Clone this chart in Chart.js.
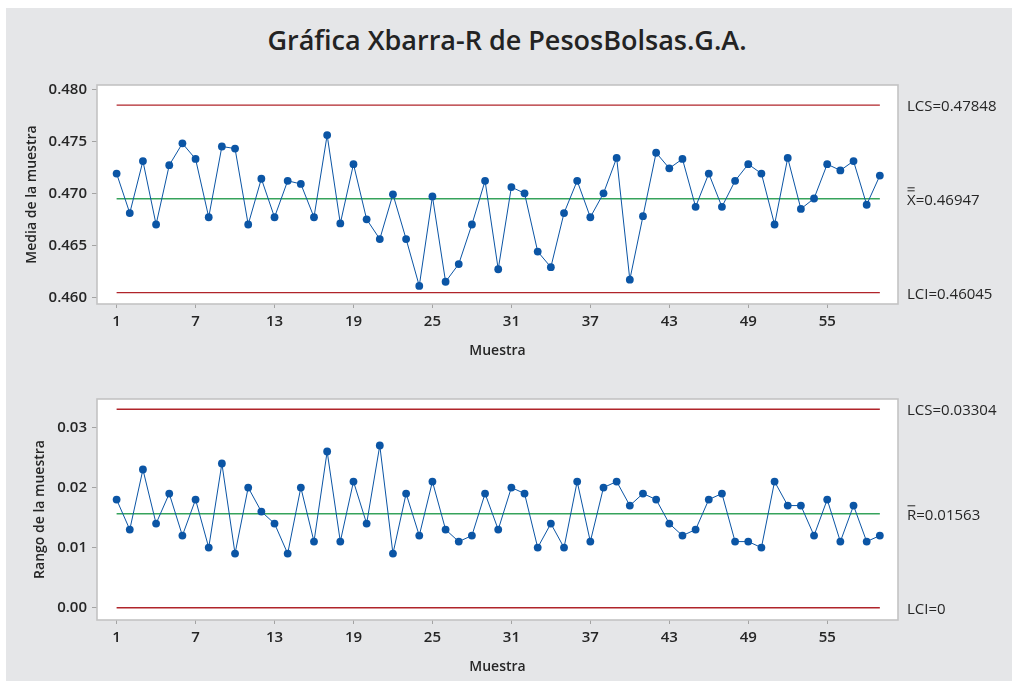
<!DOCTYPE html>
<html>
<head>
<meta charset="utf-8">
<script src="https://cdn.jsdelivr.net/npm/chart.js@4.4.0/dist/chart.umd.min.js"></script>
<style>
html, body { margin: 0; padding: 0; background: #ffffff; }
#page { position: relative; width: 1012px; height: 681px; overflow: hidden; background: #ffffff; }
#panel { position: absolute; left: 6px; top: 8px; width: 1006px; height: 673px; background: #e5e6e8; }
#title { position: absolute; left: 4px; top: 23px; width: 1006px; height: 34px; line-height: 34px; text-align: center;
  font-family: 'Open Sans', sans-serif; font-weight: 600; font-size: 27px; color: #232323; }
canvas { position: absolute; left: 0; }
#c1 { top: 0; }
#c2 { top: 372px; }
</style>
</head>
<body>
<div id="page">
  <div id="panel"></div>
  <div id="title">Gráfica Xbarra-R de PesosBolsas.G.A.</div>
  <canvas id="c1" width="1012" height="372"></canvas>
  <canvas id="c2" width="1012" height="309"></canvas>
</div>
<script>
// ---------------- data ----------------
const samples = [1,2,3,4,5,6,7,8,9,10,11,12,13,14,15,16,17,18,19,20,
  21,22,23,24,25,26,27,28,29,30,31,32,33,34,35,36,37,38,39,40,
  41,42,43,44,45,46,47,48,49,50,51,52,53,54,55,56,57,58,59];

const means = [0.4719,0.4681,0.4731,0.4670,0.4727,0.4748,0.4733,0.4677,0.4745,0.4743,
  0.4670,0.4714,0.4677,0.4712,0.4709,0.4677,0.4756,0.4671,0.4728,0.4675,
  0.4656,0.4699,0.4656,0.4611,0.4697,0.4615,0.4632,0.4670,0.4712,0.4627,
  0.4706,0.4700,0.4644,0.4629,0.4681,0.4712,0.4677,0.4700,0.4734,0.4617,
  0.4678,0.4739,0.4724,0.4733,0.4687,0.4719,0.4687,0.4712,0.4728,0.4719,
  0.4670,0.4734,0.4685,0.4695,0.4728,0.4722,0.4731,0.4689,0.4717];

const ranges = [0.018,0.013,0.023,0.014,0.019,0.012,0.018,0.010,0.024,0.009,
  0.020,0.016,0.014,0.009,0.020,0.011,0.026,0.011,0.021,0.014,
  0.027,0.009,0.019,0.012,0.021,0.013,0.011,0.012,0.019,0.013,
  0.020,0.019,0.010,0.014,0.010,0.021,0.011,0.020,0.021,0.017,
  0.019,0.018,0.014,0.012,0.013,0.018,0.019,0.011,0.011,0.010,
  0.021,0.017,0.017,0.012,0.018,0.011,0.017,0.011,0.012];

const meanLimits = [0.47848, 0.46947, 0.46045];   // LCS, center, LCI
const rangeLimits = [0.03304, 0.01563, 0];        // LCS, center, LCI
const meanLimitLabels = ['LCS=0.47848', 'X=0.46947', 'LCI=0.46045'];
const rangeLimitLabels = ['LCS=0.03304', 'R=0.01563', 'LCI=0'];

const xTicks = [1,7,13,19,25,31,37,43,49,55];
const meanTicks = [0.460,0.465,0.470,0.475,0.480];
const rangeTicks = [0.00,0.01,0.02,0.03];

// ---------------- styles ----------------
const FONT = "'Open Sans', sans-serif";
const BLUE = '#0b55a5';
const RED = '#b0242a';
const GREEN = '#36a35c';
const TEXT = '#262626';
const TICKC = '#a3a3a3';

const framePlugin = {
  id: 'frame',
  beforeDraw(chart) {
    const { ctx, chartArea: a } = chart;
    ctx.save();
    ctx.fillStyle = '#ffffff';
    ctx.fillRect(a.left, a.top, a.right - a.left, a.bottom - a.top);
    ctx.restore();
  },
  beforeDatasetsDraw(chart) {
    const { ctx, chartArea: a } = chart;
    ctx.save();
    ctx.strokeStyle = '#c3c3c3';
    ctx.lineWidth = 1.6;
    ctx.strokeRect(a.left, a.top, a.right - a.left, a.bottom - a.top);
    ctx.restore();
  }
};

const limitLabelPlugin = {
  id: 'limitLabels',
  afterDraw(chart, args, opts) {
    const { ctx } = chart;
    const ys = chart.scales.y;
    ctx.save();
    ctx.font = "15px " + FONT;
    ctx.fillStyle = TEXT;
    ctx.textAlign = 'left';
    ctx.textBaseline = 'middle';
    opts.values.forEach((v, i) => {
      const y = ys.getPixelForValue(v) + opts.dy;
      const x = 907;
      ctx.fillText(opts.labels[i], x, y);
      if (i === 1) {
        const w = ctx.measureText(opts.labels[i].charAt(0)).width;
        for (let k = 0; k < opts.bars; k++) {
          ctx.fillRect(x + 0.5, y - 10.5 - k * 3, w - 1.5, 1);
        }
      }
    });
    ctx.restore();
  }
};

function lineSet(xs, v, color) {
  return {
    data: [{ x: xs[0], y: v }, { x: xs[xs.length - 1], y: v }],
    borderColor: color, borderWidth: 1.4, pointRadius: 0, fill: false
  };
}

function makeChart(id, cfg) {
  const points = samples.map((s, i) => ({ x: s, y: cfg.values[i] }));
  return new Chart(document.getElementById(id), {
    type: 'line',
    data: {
      datasets: [
        { data: points, borderColor: BLUE, borderWidth: 1, pointRadius: 3.9, pointBackgroundColor: BLUE,
          pointBorderWidth: 0, tension: 0, fill: false },
        lineSet(samples, cfg.limits[0], RED),
        lineSet(samples, cfg.limits[1], GREEN),
        lineSet(samples, cfg.limits[2], RED)
      ]
    },
    options: {
      responsive: false,
      animation: false,
      events: [],
      layout: { padding: cfg.padding },
      plugins: {
        legend: { display: false },
        tooltip: { enabled: false },
        limitLabels: { values: cfg.limits, labels: cfg.labels, dy: 2, bars: cfg.bars }
      },
      scales: {
        x: {
          type: 'linear', min: -0.49, max: 60.38,
          afterBuildTicks: s => { s.ticks = xTicks.map(v => ({ value: v })); },
          afterFit: s => { s.height = 60; },
          ticks: { autoSkip: false, maxRotation: 0, padding: 5, color: TEXT,
                   font: { family: FONT, size: 15, weight: '600' }, callback: v => String(v) },
          grid: { drawOnChartArea: false, drawTicks: true, tickLength: 4, tickColor: TICKC, tickWidth: 1 },
          border: { display: false },
          title: { display: true, text: 'Muestra', color: TEXT,
                   font: { family: FONT, size: 14, weight: '600' }, padding: { top: 0, bottom: 4.6 } }
        },
        y: {
          type: 'linear', min: cfg.ymin, max: cfg.ymax,
          afterBuildTicks: s => { s.ticks = cfg.yticks.map(v => ({ value: v })); },
          afterFit: s => { s.width = 97; },
          ticks: { padding: 5, color: TEXT, font: { family: FONT, size: 15, weight: '600' },
                   callback: v => v.toFixed(cfg.dec) },
          grid: { drawOnChartArea: false, drawTicks: true, tickLength: 5, tickColor: TICKC, tickWidth: 1 },
          border: { display: false },
          title: { display: true, text: cfg.ytitle, color: TEXT,
                   font: { family: FONT, size: 14, weight: '600' }, padding: { top: cfg.ytitlePad, bottom: 0 } }
        }
      }
    },
    plugins: [framePlugin, limitLabelPlugin]
  });
}

makeChart('c1', {
  values: means, limits: meanLimits, labels: meanLimitLabels, bars: 2,
  ymin: 0.45936, ymax: 0.48041, yticks: meanTicks, dec: 3,
  ytitle: 'Media de la muestra', ytitlePad: 23.6,
  padding: { left: 0, top: 85, right: 114, bottom: 8 }
});

makeChart('c2', {
  values: ranges, limits: rangeLimits, labels: rangeLimitLabels, bars: 1,
  ymin: -0.00205, ymax: 0.03474, yticks: rangeTicks, dec: 2,
  ytitle: 'Rango de la muestra', ytitlePad: 31.6,
  padding: { left: 0, top: 27, right: 114, bottom: 1 }
});
</script>
</body>
</html>
